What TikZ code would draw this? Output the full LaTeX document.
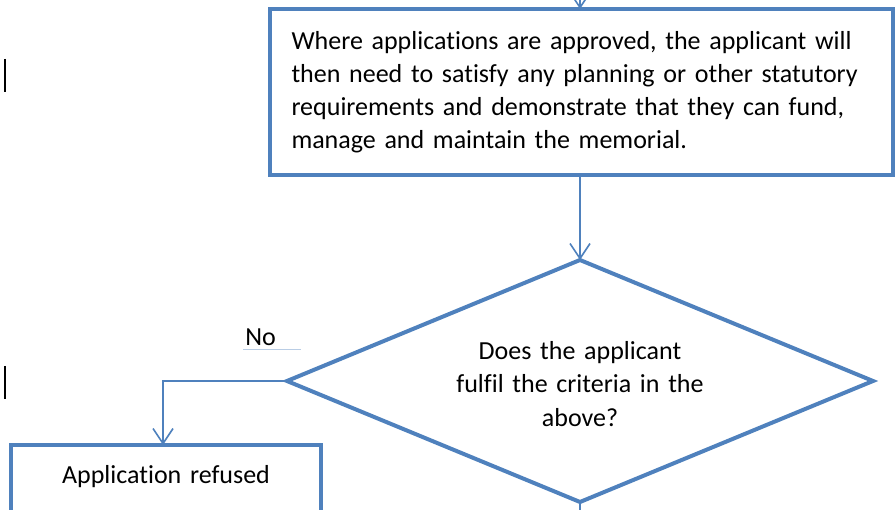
\documentclass[tikz,border=0pt]{standalone}
\usepackage{fontspec}
\setmainfont[Ligatures={NoCommon,NoRare}]{Carlito}
\usetikzlibrary{arrows.meta,shapes.geometric}
\definecolor{wordblue}{RGB}{79,129,189}
\definecolor{noline}{RGB}{185,205,229}
\newcommand{\pxunit}{0.025cm}
\tikzset{
	flowbox/.style={draw=wordblue, line width=4*\pxunit, outer sep=0pt},
	decision/.style={diamond, draw=wordblue, line width=4*\pxunit, outer sep=0pt, aspect=2.4},
	flowline/.style={draw=wordblue, line width=1.6*\pxunit, -{Straight Barb[length=15*\pxunit, width=20*\pxunit, line width=1.6*\pxunit]}},
	changebar/.style={line width=2*\pxunit, black}
}

\begin{document}
\begin{tikzpicture}[x=\pxunit, y=-\pxunit, font=\fontsize{18.5}{23.6}\selectfont]
			%%%%% START %%%%%
			
			\useasboundingbox (0, 0) rectangle (895, 510);
			\clip (0, 0) rectangle (895, 510);
			
			\node[flowbox, anchor=north west, minimum width=623*\pxunit, minimum height=166*\pxunit,
				text width=579*\pxunit, inner xsep=22*\pxunit, align=left] (approve) at (269.5, 9)
				{Where applications are approved, the applicant will\\
				then need to satisfy any planning or other statutory\\
				requirements and demonstrate that they can fund,\\
				manage and maintain the memorial.};
			
			\node[decision, minimum width=586*\pxunit, minimum height=242*\pxunit,
				text width=260*\pxunit, align=center, inner sep=0pt, text height=24*\pxunit] (criteria) at (580, 381)
				{Does the applicant\\ fulfil the criteria in the\\ above?};
			
			\node[flowbox, anchor=north, minimum width=308*\pxunit, text width=300*\pxunit, align=center,
				inner ysep=23*\pxunit, text height=16*\pxunit, text depth=90*\pxunit] (refused) at (166, 445)
				{Application refused};
			
			\node[anchor=south west, text width=53*\pxunit, inner xsep=2*\pxunit, inner ysep=4*\pxunit, align=left] (no) at (243, 350) {No};
			\draw[noline, line width=1*\pxunit] (no.south west) -- (no.south east);
			
			\coordinate (in) at (580, -5);
			\coordinate (drop) at (163, 445);
			\coordinate (out) at (580, 520);
			
			\draw[flowline] (in) -- (in |- approve.north);
			\draw[flowline] (approve.south -| criteria.north) -- (criteria.north);
			\draw[flowline] (criteria.west) -| (drop);
			\draw[draw=wordblue, line width=1.6*\pxunit] (criteria.south) -- (out);
			
			% change bars in the margin
			\draw[changebar] (5, 59) -- (5, 92);
			\draw[changebar] (5, 366) -- (5, 399);
			
			%%%%% END %%%%%
\end{tikzpicture}
\end{document}
